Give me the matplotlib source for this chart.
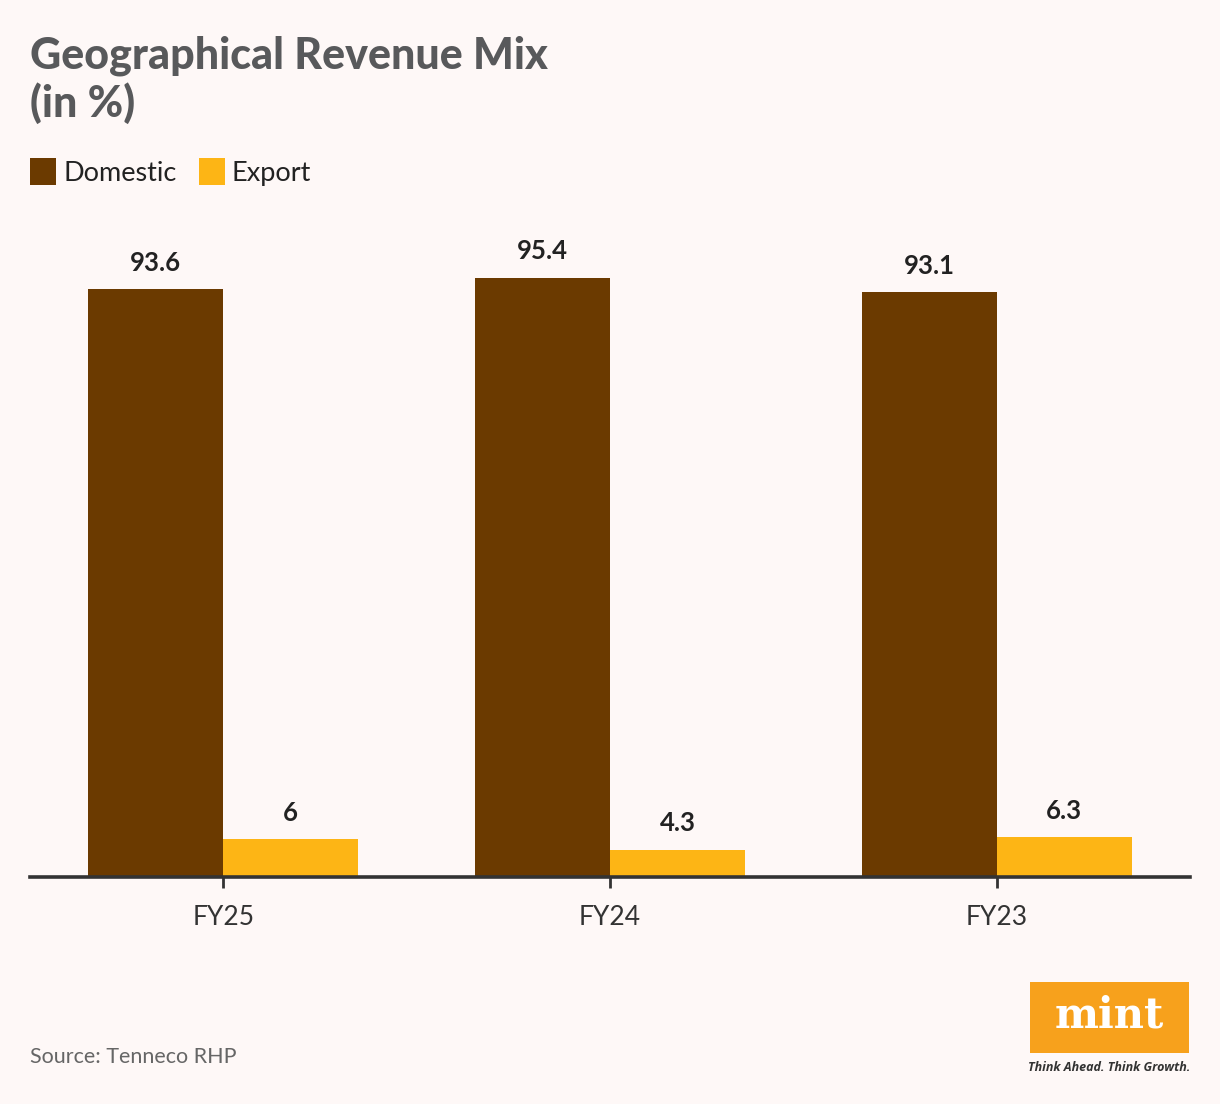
import matplotlib
matplotlib.use("Agg")
import matplotlib.pyplot as plt
from matplotlib.patches import Rectangle
import numpy as np

categories = ["FY25", "FY24", "FY23"]
domestic = [93.6, 95.4, 93.1]
export = [6, 4.3, 6.3]
series_names = ["Domestic", "Export"]
value_labels_dom = ["93.6", "95.4", "93.1"]
value_labels_exp = ["6", "4.3", "6.3"]

BG = "#fef8f7"
C_DOM = "#6b3a00"
C_EXP = "#fdb515"

W, H = 1220, 1104
fig = plt.figure(figsize=(W/100, H/100), dpi=100, facecolor=BG)

def fx(px): return px / W
def fy(py): return 1 - py / H

ax = fig.add_axes([fx(30), fy(877), fx(1190) - fx(30), (877 - 249) / H])
ax.set_facecolor(BG)
x = np.arange(len(categories))
w = 0.349
ax.bar(x - w/2, domestic, w, color=C_DOM, zorder=2)
ax.bar(x + w/2, export, w, color=C_EXP, zorder=2)
ax.set_xlim(-0.5, 2.5)
ax.set_ylim(0, 100)
for s in ["top", "right", "left"]:
    ax.spines[s].set_visible(False)
ax.spines["bottom"].set_linewidth(2.6)
ax.spines["bottom"].set_color("#333333")
ax.spines["bottom"].set_zorder(3)
ax.set_yticks([])
ax.set_xticks(x)
ax.set_xticklabels(categories, fontsize=19, color="#333333", family="Lato")
ax.tick_params(axis="x", length=8, width=2, color="#333333", pad=12)

for xi, v, lab in zip(x, domestic, value_labels_dom):
    ax.annotate(lab, (xi - w/2, v), xytext=(0, 10.5), textcoords="offset points",
                ha="center", va="bottom", fontsize=18.5, fontweight="bold",
                color="#222222", family="Lato")
for xi, v, lab in zip(x, export, value_labels_exp):
    ax.annotate(lab, (xi + w/2, v), xytext=(0, 10.5), textcoords="offset points",
                ha="center", va="bottom", fontsize=18.5, fontweight="bold",
                color="#222222", family="Lato")

# Title
fig.text(fx(30), fy(68), "Geographical Revenue Mix", fontsize=31, fontweight="black",
         color="#58595b", family="Lato", ha="left", va="baseline")
fig.text(fx(30), fy(117), "(in %)", fontsize=31, fontweight="black",
         color="#58595b", family="Lato", ha="left", va="baseline")

# Legend
fig.patches.append(Rectangle((fx(30), fy(185)), 26/W, 27/H, transform=fig.transFigure,
                             facecolor=C_DOM, edgecolor="none"))
fig.text(fx(64), fy(181), series_names[0], fontsize=19.5, color="#222222", family="Lato",
         ha="left", va="baseline")
fig.patches.append(Rectangle((fx(199), fy(185)), 26/W, 27/H, transform=fig.transFigure,
                             facecolor=C_EXP, edgecolor="none"))
fig.text(fx(232), fy(181), series_names[1], fontsize=19.5, color="#222222", family="Lato",
         ha="left", va="baseline")

# Source
fig.text(fx(30), fy(1063), "Source: Tenneco RHP", fontsize=15.5, color="#666666",
         family="Lato", ha="left", va="baseline")

# mint logo
fig.patches.append(Rectangle((fx(1030), fy(1053)), 159/W, 71/H, transform=fig.transFigure,
                             facecolor="#f7a11c", edgecolor="none"))
fig.text(fx(1109), fy(1016), "mint", fontsize=30, fontweight="bold", color="white",
         family="DejaVu Serif", ha="center", va="center")
fig.text(fx(1109), fy(1071), "Think Ahead. Think Growth.", fontsize=9, fontweight="bold",
         style="italic", color="#333333", family="Open Sans", ha="center", va="baseline")

fig.savefig("out.png", dpi=100, facecolor=BG)
